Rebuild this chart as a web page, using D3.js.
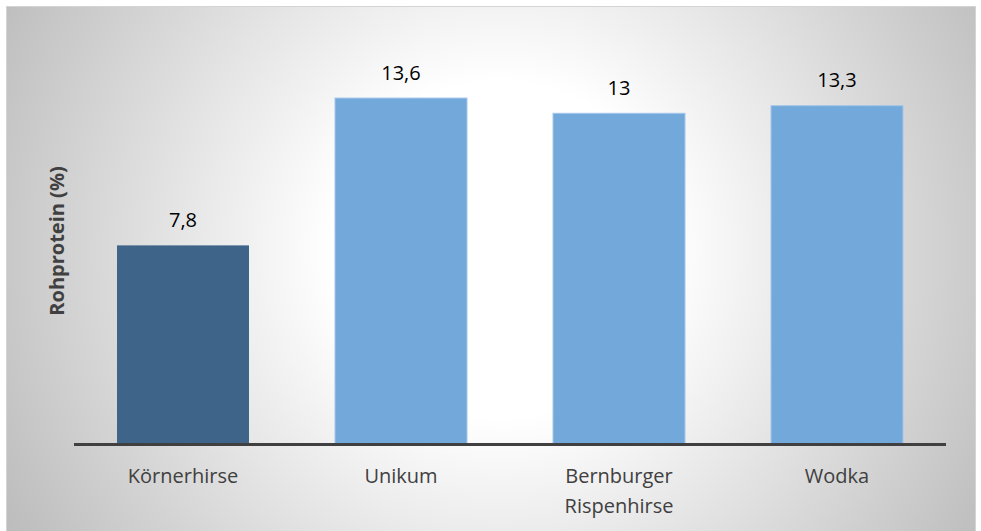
<!DOCTYPE html>
<html>
<head>
<meta charset="utf-8">
<script src="https://cdn.jsdelivr.net/npm/d3@7"></script>
<style>
  html, body { margin: 0; padding: 0; background: #ffffff; }
  svg { display: block; }
</style>
</head>
<body>
<svg id="chart" width="981" height="531"></svg>
<script>
// Rohproteingehalt der Hirsesorten
const categories = [["Körnerhirse"], ["Unikum"], ["Bernburger", "Rispenhirse"], ["Wodka"]];
const values = [7.8, 13.6, 13, 13.3];
const valueLabels = ["7,8", "13,6", "13", "13,3"];
const barColors = ["#3e6589", "#72a8da", "#72a8da", "#72a8da"];
const barStrokes = ["none", "#a3c6ea", "#a3c6ea", "#a3c6ea"];
const yTitle = "Rohprotein (%)";

const W = 981, H = 531;
const svg = d3.select("#chart");
const defs = svg.append("defs");

const grad = defs.append("radialGradient")
  .attr("id", "bg")
  .attr("gradientUnits", "userSpaceOnUse")
  .attr("cx", 500).attr("cy", 250).attr("r", 560);
grad.append("stop").attr("offset", "0%").attr("stop-color", "#ffffff");
grad.append("stop").attr("offset", "30%").attr("stop-color", "#ffffff");
grad.append("stop").attr("offset", "100%").attr("stop-color", "#bdbdbd");

// Chart area with frame
svg.append("rect")
  .attr("x", 6.5).attr("y", 6.5)
  .attr("width", 969).attr("height", 530)
  .attr("fill", "url(#bg)")
  .attr("stroke", "#d4d4d4").attr("stroke-width", 1);

const plot = { left: 74, right: 946, top: 37, bottom: 443 };

const x = d3.scaleBand()
  .domain(d3.range(values.length))
  .range([plot.left, plot.right])
  .paddingInner(0.39)
  .paddingOuter(0.195);

const y = d3.scaleLinear()
  .domain([0, 16])
  .range([plot.bottom, plot.bottom - 16 * 25.4]);

const font = "'Open Sans', 'DejaVu Sans', sans-serif";

// Bars
svg.append("g").selectAll("rect")
  .data(values)
  .join("rect")
  .attr("x", (d, i) => x(i) + 0.5)
  .attr("y", d => y(d) + 0.5)
  .attr("width", x.bandwidth() - 1)
  .attr("height", d => y(0) - y(d))
  .attr("fill", (d, i) => barColors[i])
  .attr("stroke", (d, i) => barStrokes[i])
  .attr("stroke-width", 1);

// Value labels
svg.append("g").selectAll("text")
  .data(values)
  .join("text")
  .attr("x", (d, i) => x(i) + x.bandwidth() / 2)
  .attr("y", d => y(d) - 18)
  .attr("text-anchor", "middle")
  .attr("font-family", font)
  .attr("font-size", 20)
  .attr("fill", "#000000")
  .text((d, i) => valueLabels[i]);

// Category axis
const xAxis = svg.append("g")
  .attr("transform", `translate(0,${plot.bottom})`)
  .call(d3.axisBottom(x).tickSize(0).tickFormat(""));
xAxis.select(".domain")
  .attr("d", `M${plot.left},1.5H${plot.right}`)
  .attr("stroke", "#404040")
  .attr("stroke-width", 3);

const catText = svg.append("g").selectAll("text")
  .data(categories)
  .join("text")
  .attr("x", (d, i) => x(i) + x.bandwidth() / 2)
  .attr("y", 483)
  .attr("text-anchor", "middle")
  .attr("font-family", font)
  .attr("font-size", 20)
  .attr("fill", "#404040");
catText.each(function(lines, i) {
  d3.select(this).selectAll("tspan")
    .data(lines)
    .join("tspan")
    .attr("x", x(i) + x.bandwidth() / 2)
    .attr("dy", (l, j) => j === 0 ? 0 : 30)
    .text(l => l);
});

// Axis title
svg.append("text")
  .attr("transform", "translate(64,241) rotate(-90)")
  .attr("text-anchor", "middle")
  .attr("font-family", font)
  .attr("font-size", 20)
  .attr("font-weight", "bold")
  .attr("fill", "#404040")
  .text(yTitle);
</script>
</body>
</html>
